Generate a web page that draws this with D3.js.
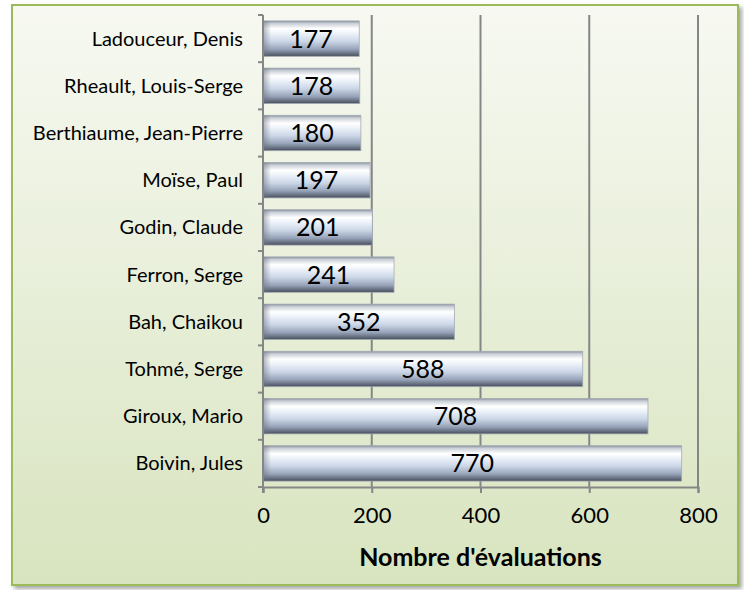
<!DOCTYPE html>
<html><head><meta charset="utf-8">
<script src="https://cdn.jsdelivr.net/npm/d3@7/dist/d3.min.js"></script>
<style>body{margin:0;background:#fff}svg{display:block}</style>
</head><body>
<script>
const categories = ["Ladouceur, Denis","Rheault, Louis-Serge","Berthiaume, Jean-Pierre","Moïse, Paul","Godin, Claude","Ferron, Serge","Bah, Chaikou","Tohmé, Serge","Giroux, Mario","Boivin, Jules"];
const values = [177,178,180,197,201,241,352,588,708,770];
const xTicks = [0,200,400,600,800];
const axisTitle = "Nombre d'évaluations";

const W = 744, H = 590;
const svg = d3.select("body").append("svg").attr("width", W).attr("height", H);
const defs = svg.append("defs");

const bg = defs.append("linearGradient").attr("id","bg").attr("x1",0).attr("y1",0).attr("x2",0).attr("y2",1);
bg.append("stop").attr("offset","0%").attr("stop-color","#f7f9f2");
bg.append("stop").attr("offset","100%").attr("stop-color","#d8e4bf");

const bar = defs.append("linearGradient").attr("id","bar").attr("x1",0).attr("y1",0).attr("x2",0).attr("y2",1);
[["0%","#8a9099"],["7%","#c8ced6"],["22%","#ffffff"],["35%","#eef3fa"],["58%","#cbd6e6"],["80%","#97a3b9"],["93%","#646d7e"],["100%","#454b57"]]
  .forEach(([o,c])=>bar.append("stop").attr("offset",o).attr("stop-color",c));
const barEnd = defs.append("linearGradient").attr("id","barEnd").attr("x1",0).attr("y1",0).attr("x2",1).attr("y2",0);
barEnd.append("stop").attr("offset","0%").attr("stop-color","#6f7683").attr("stop-opacity",0.55);
barEnd.append("stop").attr("offset","100%").attr("stop-color","#6f7683").attr("stop-opacity",0);

const sh = defs.append("filter").attr("id","sh").attr("x","-5%").attr("y","-5%").attr("width","115%").attr("height","115%");
sh.append("feGaussianBlur").attr("in","SourceAlpha").attr("stdDeviation",2);
sh.append("feOffset").attr("dx",3).attr("dy",3).attr("result","b");
sh.append("feComponentTransfer").append("feFuncA").attr("type","linear").attr("slope",0.35);
const m = sh.append("feMerge"); m.append("feMergeNode"); m.append("feMergeNode").attr("in","SourceGraphic");

svg.append("rect").attr("x",12).attr("y",5).attr("width",726).attr("height",580)
  .attr("fill","url(#bg)").attr("stroke","#9bbb59").attr("stroke-width",2).attr("filter","url(#sh)");

const x = d3.scaleLinear().domain([0,800]).range([263,698]);
const y = d3.scaleBand().domain(categories).range([15,487]).paddingInner(0.25).paddingOuter(0.125);

const font = "Lato, sans-serif";

// gridlines
svg.append("g").selectAll("line").data(xTicks.filter(d=>d>0)).join("line")
  .attr("x1",d=>x(d)).attr("x2",d=>x(d)).attr("y1",15).attr("y2",487)
  .attr("stroke","#868686").attr("stroke-width",2);

// bars
const bars = svg.append("g").selectAll("g").data(values).join("g");
bars.append("rect").attr("x",x(0)).attr("y",(d,i)=>y(categories[i]))
  .attr("width",d=>x(d)-x(0)).attr("height",y.bandwidth())
  .attr("fill","url(#bar)").attr("stroke","#a5abb5").attr("stroke-width",0.8);
bars.append("rect").attr("x",x(0)).attr("y",(d,i)=>y(categories[i]))
  .attr("width",8).attr("height",y.bandwidth()).attr("fill","url(#barEnd)");
bars.append("text").attr("x",d=>x(d/2)).attr("y",(d,i)=>y(categories[i])+y.bandwidth()/2+9)
  .attr("text-anchor","middle").attr("font-family",font).attr("font-size",25).attr("fill","#000").text(d=>d);

// y axis
const ya = svg.append("g").attr("transform",`translate(${x(0)},0)`)
  .call(d3.axisLeft(y).tickSize(0).tickPadding(20));
ya.select(".domain").remove();
ya.selectAll("text").attr("font-family",font).attr("font-size",20).attr("fill","#000").attr("dy","0.35em");
svg.append("line").attr("x1",x(0)).attr("x2",x(0)).attr("y1",15).attr("y2",493).attr("stroke","#868686").attr("stroke-width",2);
const bounds = categories.map(c=>y(c)-y.step()*y.paddingInner()/2).concat([487]);
svg.append("g").selectAll("line").data(bounds).join("line")
  .attr("x1",x(0)-5).attr("x2",x(0)).attr("y1",d=>d).attr("y2",d=>d).attr("stroke","#868686").attr("stroke-width",2);

// x axis
const xa = svg.append("g").attr("transform",`translate(0,487)`)
  .call(d3.axisBottom(x).tickValues(xTicks).tickSize(6).tickPadding(14));
xa.select(".domain").attr("stroke","#868686").attr("stroke-width",2);
xa.selectAll(".tick line").attr("stroke","#868686").attr("stroke-width",2);
xa.selectAll("text").attr("font-family",font).attr("font-size",22).attr("fill","#000");

svg.append("text").attr("x",x(400)).attr("y",566).attr("text-anchor","middle")
  .attr("font-family",font).attr("font-size",25).attr("font-weight","bold").attr("fill","#000").text(axisTitle);
</script>
</body></html>
